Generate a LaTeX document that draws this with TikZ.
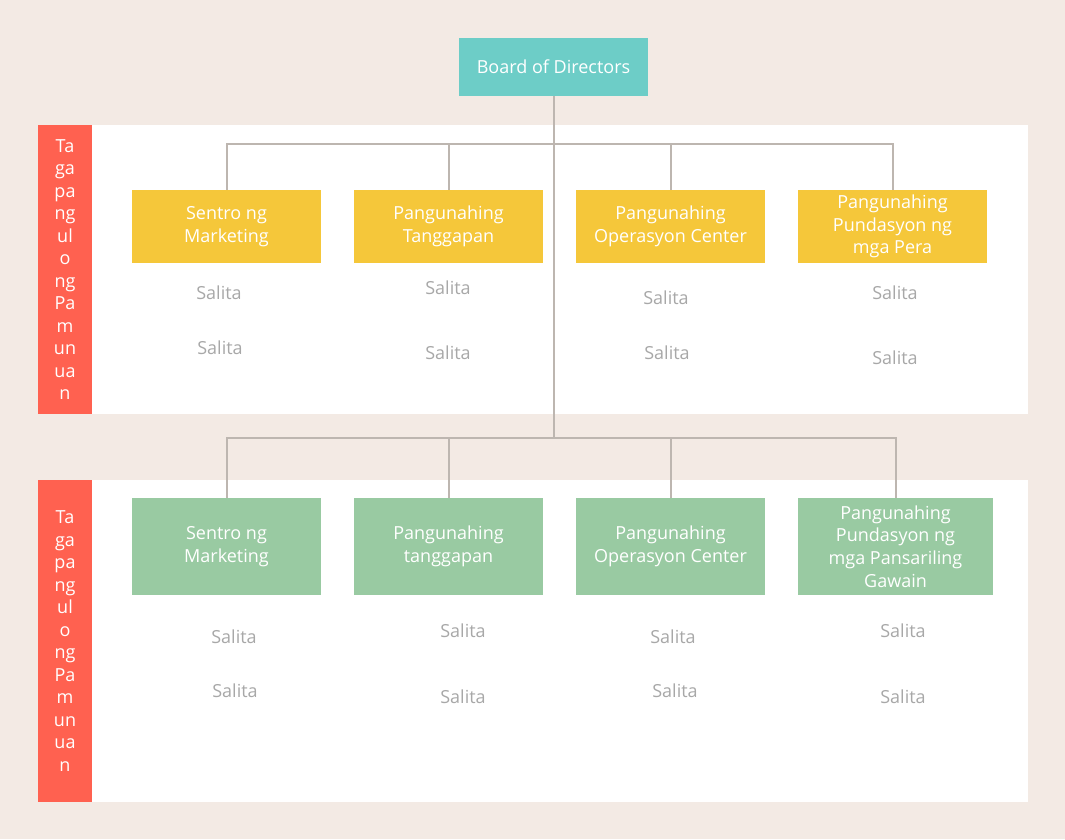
\documentclass[tikz,border=0pt]{standalone}
\usepackage{fontspec}
\setmainfont{Open Sans}
\definecolor{bgbeige}{HTML}{F3EAE4}
\definecolor{boardteal}{HTML}{6DCDC7}
\definecolor{headyellow}{HTML}{F5C73A}
\definecolor{headgreen}{HTML}{99CAA2}
\definecolor{siderred}{HTML}{FF6150}
\definecolor{linegray}{HTML}{BDB6B0}
\definecolor{wordgray}{HTML}{A8A8A8}
\begin{document}
\begin{tikzpicture}[x=1pt, y=-1pt,
  board/.style={fill=boardteal, text=white, rectangle, minimum width=189pt,
                minimum height=58pt, inner sep=0pt, align=center,
                font=\fontsize{18}{22}\selectfont},
  yellowbox/.style={fill=headyellow, text=white, rectangle, minimum width=189pt,
                    minimum height=73pt, inner sep=0pt, align=center,
                    font=\fontsize{18}{22.5}\selectfont},
  greenbox/.style={fill=headgreen, text=white, rectangle, minimum width=189pt,
                   minimum height=97pt, inner sep=0pt, align=center,
                   font=\fontsize{18}{22.7}\selectfont},
  sidebar/.style={fill=siderred, text=white, rectangle, minimum width=54pt,
                  inner sep=0pt, align=center, font=\fontsize{18}{22.5}\selectfont},
  word/.style={text=wordgray, font=\fontsize{18}{22}\selectfont},
  conn/.style={-, line width=2pt, linegray}
]
% background and panels
\fill[bgbeige] (0,0) rectangle (1065,839);
\fill[white] (92,125) rectangle (1028,414);
\fill[white] (92,480) rectangle (1028,802);

\node[sidebar, minimum height=289pt] (side1) at (65,269.5)
  {Ta\\ga\\pa\\ng\\ul\\o\\ng\\Pa\\m\\un\\ua\\n};
\node[sidebar, minimum height=322pt] (side2) at (65,641)
  {Ta\\ga\\pa\\ng\\ul\\o\\ng\\Pa\\m\\un\\ua\\n};

\node[board] (board) at (553.5,67) {Board of Directors};

\node[yellowbox] (ymkt) at (226.5,226.5) {Sentro ng\\Marketing};
\node[yellowbox] (yoff) at (448.5,226.5) {Pangunahing\\Tanggapan};
\node[yellowbox] (yops) at (670.5,226.5) {Pangunahing\\Operasyon Center};
\node[yellowbox] (yfin) at (892.5,226.5) {Pangunahing\\Pundasyon ng\\mga Pera};

\node[greenbox] (gmkt) at (226.5,546.5) {Sentro ng\\Marketing};
\node[greenbox] (goff) at (448.5,546.5) {Pangunahing\\tanggapan};
\node[greenbox] (gops) at (670.5,546.5) {Pangunahing\\Operasyon Center};
\node[greenbox, minimum width=195pt] (gfin) at (895.5,546.5)
  {Pangunahing\\Pundasyon ng\\mga Pansariling\\Gawain};

% words under the heads
\node[word] (w1a) at (219,293) {Salita};
\node[word] (w1b) at (220,348) {Salita};
\node[word] (w2a) at (448,288) {Salita};
\node[word] (w2b) at (448,353) {Salita};
\node[word] (w3a) at (666,298) {Salita};
\node[word] (w3b) at (667,353) {Salita};
\node[word] (w4a) at (895,293) {Salita};
\node[word] (w4b) at (895,358) {Salita};
\node[word] (w5a) at (234,637) {Salita};
\node[word] (w5b) at (235,691) {Salita};
\node[word] (w6a) at (463,631) {Salita};
\node[word] (w6b) at (463,697) {Salita};
\node[word] (w7a) at (673,637) {Salita};
\node[word] (w7b) at (675,691) {Salita};
\node[word] (w8a) at (903,631) {Salita};
\node[word] (w8b) at (903,697) {Salita};

% connectors
\coordinate (jup) at (553.5,144);
\coordinate (jlow) at (553.5,438);
\draw[conn] (board.south) -- (jlow);
\draw[conn] (ymkt.north) |- (jup) -| (yfin.north);
\draw[conn] (yoff.north) -- (yoff.north |- jup);
\draw[conn] (yops.north) -- (yops.north |- jup);
\draw[conn] (gmkt.north) |- (jlow) -| (gfin.north);
\draw[conn] (goff.north) -- (goff.north |- jlow);
\draw[conn] (gops.north) -- (gops.north |- jlow);
\end{tikzpicture}
\end{document}
